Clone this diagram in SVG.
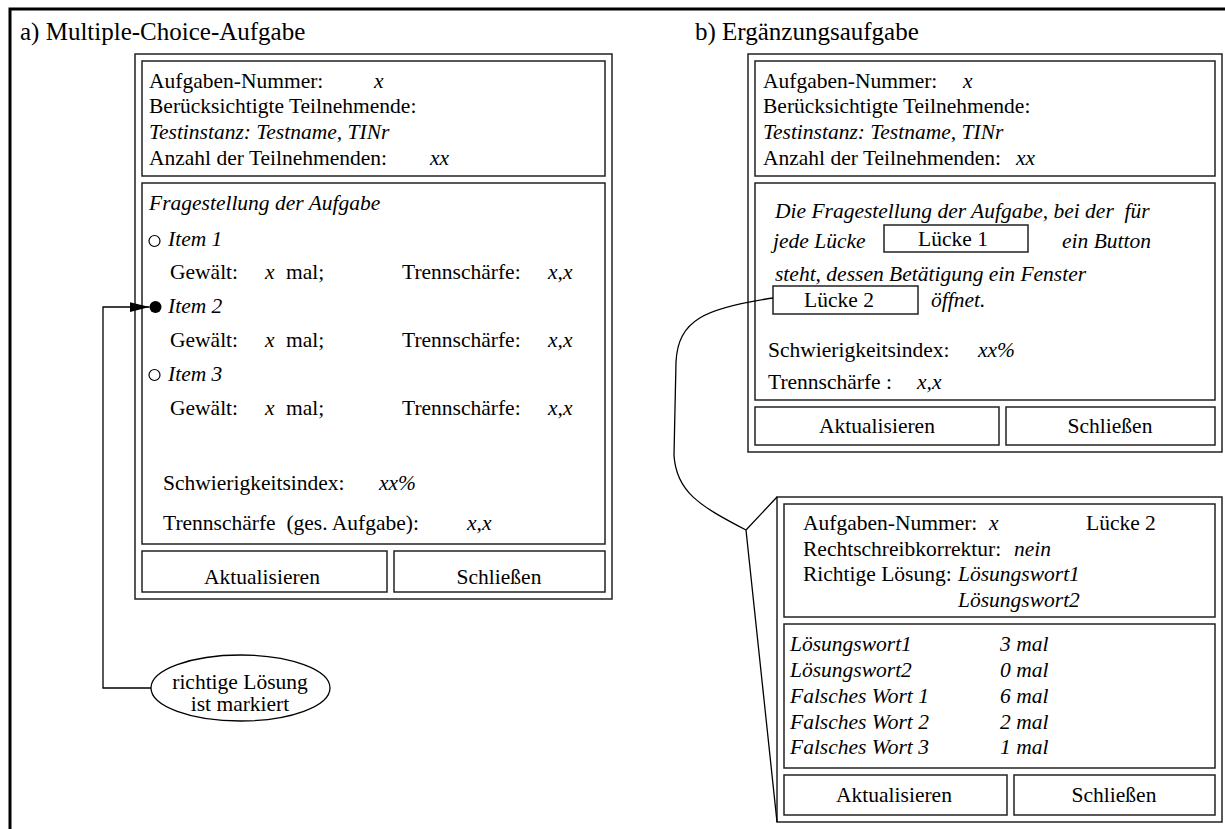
<svg xmlns="http://www.w3.org/2000/svg" width="1225" height="829" viewBox="0 0 1225 829">
  <style>
    text { font-family: "Liberation Serif", "Times New Roman", serif; font-size: 21.5px; fill: #000; }
    .it { font-style: italic; }
    .title { font-size: 25px; }
    .mid { text-anchor: middle; }
    .box { fill: #fff; stroke: #222; stroke-width: 1.5; }
    .frame { fill: none; stroke: #000; stroke-width: 3; }
    .wire { fill: none; stroke: #000; stroke-width: 1.3; }
  </style>
  <defs>
    <marker id="arrow" viewBox="0 0 20 10" refX="20" refY="5" markerWidth="20" markerHeight="10" markerUnits="userSpaceOnUse" orient="auto">
      <path d="M0,0 L20,5 L0,10 Z" fill="#000"/>
    </marker>
  </defs>

  <rect width="1225" height="829" fill="#fff"/>
  <!-- page frame (top and left edges) -->
  <path class="frame" d="M10,829 L10,9 L1225,9"/>

  <text class="title" x="20" y="40">a) Multiple-Choice-Aufgabe</text>
  <text class="title" x="695" y="40">b) Ergänzungsaufgabe</text>

  <!-- a) multiple choice window -->
  <g id="mc-window">
    <rect class="box" x="135" y="54" width="477" height="545"/>
    <rect class="box" x="142" y="61" width="463" height="115"/>
    <text x="149" y="88">Aufgaben-Nummer:</text>
    <text class="it" x="374" y="88">x</text>
    <text x="149" y="113">Berücksichtigte Teilnehmende:</text>
    <text class="it" x="149" y="139">Testinstanz: Testname, TINr</text>
    <text x="149" y="165">Anzahl der Teilnehmenden:</text>
    <text class="it" x="430" y="165">xx</text>

    <rect class="box" x="142" y="183" width="463" height="361"/>
    <text class="it" x="149" y="210">Fragestellung der Aufgabe</text>

    <circle cx="154.5" cy="241" r="5.5" fill="#fff" stroke="#000" stroke-width="1.2"/>
    <text class="it" x="168" y="246">Item 1</text>
    <text x="170" y="279">Gewält:</text>
    <text class="it" x="265" y="279">x</text>
    <text x="286" y="279">mal;</text>
    <text x="402" y="279">Trennschärfe:</text>
    <text class="it" x="548" y="279">x,x</text>

    <circle cx="155.5" cy="307" r="6" fill="#000"/>
    <text class="it" x="168" y="313">Item 2</text>
    <text x="170" y="347">Gewält:</text>
    <text class="it" x="265" y="347">x</text>
    <text x="286" y="347">mal;</text>
    <text x="402" y="347">Trennschärfe:</text>
    <text class="it" x="548" y="347">x,x</text>

    <circle cx="154.5" cy="375" r="5.5" fill="#fff" stroke="#000" stroke-width="1.2"/>
    <text class="it" x="168" y="381">Item 3</text>
    <text x="170" y="415">Gewält:</text>
    <text class="it" x="265" y="415">x</text>
    <text x="286" y="415">mal;</text>
    <text x="402" y="415">Trennschärfe:</text>
    <text class="it" x="548" y="415">x,x</text>

    <text x="163" y="490">Schwierigkeitsindex:</text>
    <text class="it" x="379" y="490">xx%</text>
    <text x="163" y="530">Trennschärfe&#160; (ges. Aufgabe):</text>
    <text class="it" x="467" y="530">x,x</text>

    <rect class="box" x="142" y="551" width="245" height="41"/>
    <text class="mid" x="262" y="584">Aktualisieren</text>
    <rect class="box" x="394" y="551" width="211" height="41"/>
    <text class="mid" x="499" y="584">Schließen</text>
  </g>

  <!-- annotation bubble -->
  <g id="note">
    <ellipse cx="240.5" cy="688" rx="89.5" ry="33" fill="#fff" stroke="#000" stroke-width="1.3"/>
    <text class="mid" x="240" y="689">richtige Lösung</text>
    <text class="mid" x="240" y="711">ist markiert</text>
  </g>

  <!-- b) gap-fill window -->
  <g id="gap-window">
    <rect class="box" x="748" y="54" width="474" height="398"/>
    <rect class="box" x="755" y="61" width="460" height="115"/>
    <text x="763" y="88">Aufgaben-Nummer:</text>
    <text class="it" x="963" y="88">x</text>
    <text x="763" y="113">Berücksichtigte Teilnehmende:</text>
    <text class="it" x="763" y="139">Testinstanz: Testname, TINr</text>
    <text x="763" y="165">Anzahl der Teilnehmenden:</text>
    <text class="it" x="1016" y="165">xx</text>

    <rect class="box" x="755" y="183" width="460" height="217"/>
    <text class="it" x="775" y="218">Die Fragestellung der Aufgabe, bei der&#160; für</text>
    <text class="it" x="773" y="248">jede Lücke</text>
    <rect class="box" x="884" y="225" width="144" height="27"/>
    <text class="mid" x="953" y="246">Lücke 1</text>
    <text class="it" x="1062" y="248">ein Button</text>
    <text class="it" x="775" y="281">steht, dessen Betätigung ein Fenster</text>
    <rect class="box" x="773" y="286" width="145" height="28"/>
    <text class="mid" x="839" y="307">Lücke 2</text>
    <text class="it" x="931" y="307">öffnet.</text>
    <text x="768" y="357">Schwierigkeitsindex:</text>
    <text class="it" x="978" y="357">xx%</text>
    <text x="768" y="389">Trennschärfe :</text>
    <text class="it" x="917" y="389">x,x</text>

    <rect class="box" x="755" y="407" width="244" height="38"/>
    <text class="mid" x="877" y="433">Aktualisieren</text>
    <rect class="box" x="1006" y="407" width="209" height="38"/>
    <text class="mid" x="1110" y="433">Schließen</text>
  </g>

  <!-- popup window for one gap -->
  <g id="gap-popup">
    <rect class="box" x="777" y="497" width="445" height="325"/>
    <rect class="box" x="784" y="504" width="431" height="113"/>
    <text x="803" y="530">Aufgaben-Nummer:</text>
    <text class="it" x="989" y="530">x</text>
    <text x="1086" y="530">Lücke 2</text>
    <text x="803" y="556">Rechtschreibkorrektur:</text>
    <text class="it" x="1014" y="556">nein</text>
    <text x="803" y="581">Richtige Lösung:</text>
    <text class="it" x="958" y="581">Lösungswort1</text>
    <text class="it" x="958" y="607">Lösungswort2</text>

    <rect class="box" x="784" y="624" width="431" height="144"/>
    <text class="it" x="790" y="651">Lösungswort1</text>
    <text class="it" x="1000" y="651">3 mal</text>
    <text class="it" x="790" y="677">Lösungswort2</text>
    <text class="it" x="1000" y="677">0 mal</text>
    <text class="it" x="790" y="703">Falsches Wort 1</text>
    <text class="it" x="1000" y="703">6 mal</text>
    <text class="it" x="790" y="729">Falsches Wort 2</text>
    <text class="it" x="1000" y="729">2 mal</text>
    <text class="it" x="790" y="754">Falsches Wort 3</text>
    <text class="it" x="1000" y="754">1 mal</text>

    <rect class="box" x="784" y="775" width="223" height="40"/>
    <text class="mid" x="894" y="802">Aktualisieren</text>
    <rect class="box" x="1014" y="775" width="201" height="40"/>
    <text class="mid" x="1114" y="802">Schließen</text>
  </g>

  <!-- connectors -->
  <g id="connectors">
    <path class="wire" d="M151,688 L103,688 L103,307 L149.5,307" marker-end="url(#arrow)"/>
    <path class="wire" d="M773,298 C705,308 678,320 676,362 L674,455 C676,492 700,506 746,530"/>
    <path class="wire" d="M777,497 L746,530 L777,822"/>
  </g>
</svg>
